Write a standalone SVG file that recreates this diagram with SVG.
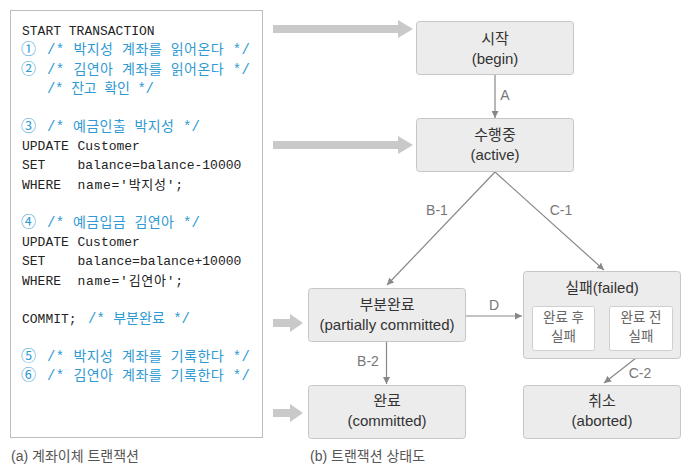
<svg xmlns="http://www.w3.org/2000/svg" width="693" height="472" viewBox="0 0 693 472">
<defs>
<style>
.code{font-family:"Liberation Mono","Noto Sans CJK KR",monospace;font-size:13px;fill:#222}
.cm{fill:#2f9ad3}
.k{font-size:14px}
.num{font-size:15px}
.node rect.box{fill:#ececec;stroke:#c6c6c6;stroke-width:1}
.node rect.inner{fill:#ffffff;stroke:#cfcfcf;stroke-width:1}
.nt{font-family:"Liberation Sans","Noto Sans CJK KR",sans-serif;font-size:15px;fill:#333;text-anchor:middle}
.it{font-family:"Liberation Sans","Noto Sans CJK KR",sans-serif;font-size:13.5px;fill:#666;text-anchor:middle}
.lbl{font-family:"Liberation Sans","Noto Sans CJK KR",sans-serif;font-size:14px;fill:#777;text-anchor:middle}
.cap{font-family:"Liberation Sans","Noto Sans CJK KR",sans-serif;font-size:14px;fill:#555}
.edge{stroke:#888;stroke-width:1.2;fill:none;marker-end:url(#ah)}
.big{fill:#c8c9c8}
</style>
<marker id="ah" viewBox="0 0 10 10" refX="10" refY="5" markerWidth="7" markerHeight="7" markerUnits="userSpaceOnUse" orient="auto">
<path d="M0,0 L10,5 L0,10 Z" fill="#888"/>
</marker>
</defs>

<g id="code-panel">
<rect x="10.5" y="10.5" width="252" height="427" fill="#fff" stroke="#bdbdbd"/>
<text class="code" x="22" y="35">START TRANSACTION</text>
<text class="code cm" y="54"><tspan class="num" x="21">①</tspan><tspan class="k" x="47" textLength="203" lengthAdjust="spacing">/* 박지성 계좌를 읽어온다 */</tspan></text>
<text class="code cm" y="74"><tspan class="num" x="21">②</tspan><tspan class="k" x="47" textLength="203" lengthAdjust="spacing">/* 김연아 계좌를 읽어온다 */</tspan></text>
<text class="code cm" y="93"><tspan class="k" x="47" textLength="107" lengthAdjust="spacing">/* 잔고 확인 */</tspan></text>
<text class="code cm" y="131"><tspan class="num" x="21">③</tspan><tspan class="k" x="47" textLength="153" lengthAdjust="spacing">/* 예금인출 박지성 */</tspan></text>
<text class="code" y="150"><tspan x="22">UPDATE</tspan><tspan x="77.5">Customer</tspan></text>
<text class="code" y="169"><tspan x="22">SET</tspan><tspan x="77.5">balance=balance-10000</tspan></text>
<text class="code" y="189"><tspan x="22">WHERE</tspan><tspan x="77.5" textLength="105.5" lengthAdjust="spacing">name='박지성';</tspan></text>
<text class="code cm" y="227"><tspan class="num" x="21">④</tspan><tspan class="k" x="47" textLength="153" lengthAdjust="spacing">/* 예금입금 김연아 */</tspan></text>
<text class="code" y="246"><tspan x="22">UPDATE</tspan><tspan x="77.5">Customer</tspan></text>
<text class="code" y="265"><tspan x="22">SET</tspan><tspan x="77.5">balance=balance+10000</tspan></text>
<text class="code" y="285"><tspan x="22">WHERE</tspan><tspan x="77.5" textLength="105.5" lengthAdjust="spacing">name='김연아';</tspan></text>
<text class="code" y="323"><tspan x="22">COMMIT;</tspan><tspan class="cm k" x="88" textLength="102" lengthAdjust="spacing">/* 부분완료 */</tspan></text>
<text class="code cm" y="361"><tspan class="num" x="21">⑤</tspan><tspan class="k" x="47" textLength="203" lengthAdjust="spacing">/* 박지성 계좌를 기록한다 */</tspan></text>
<text class="code cm" y="380"><tspan class="num" x="21">⑥</tspan><tspan class="k" x="47" textLength="203" lengthAdjust="spacing">/* 김연아 계좌를 기록한다 */</tspan></text>
<text class="cap" x="11" y="461">(a) 계좌이체 트랜잭션</text>
</g>

<g id="pointers">
<path class="big" d="M273,25 H398 V20 L413,29 L398,38 V33 H273 Z"/>
<path class="big" d="M273,141 H398 V136 L413,145 L398,154 V149 H273 Z"/>
<path class="big" d="M273,319 H290 V314 L303,323 L290,332 V327 H273 Z"/>
<path class="big" d="M273,409 H290 V404 L303,413 L290,422 V417 H273 Z"/>
</g>

<g id="connectors">
<line class="edge" x1="495" y1="75" x2="495" y2="118"/>
<line class="edge" x1="495" y1="172" x2="387" y2="285"/>
<line class="edge" x1="495" y1="172" x2="604" y2="270"/>
<line class="edge" x1="465" y1="316" x2="522" y2="316"/>
<line class="edge" x1="386.5" y1="341" x2="386.5" y2="384"/>
<line class="edge" x1="636" y1="358" x2="604" y2="383"/>
<text class="lbl" x="505" y="100">A</text>
<text class="lbl" x="437" y="215">B-1</text>
<text class="lbl" x="561" y="215">C-1</text>
<text class="lbl" x="494" y="310">D</text>
<text class="lbl" x="368" y="366">B-2</text>
<text class="lbl" x="640" y="378">C-2</text>
</g>

<g id="begin" class="node">
<rect class="box" x="416.5" y="21.5" width="157" height="53" rx="3"/>
<text class="nt" x="495" y="44">시작</text>
<text class="nt" x="495" y="64">(begin)</text>
</g>

<g id="active" class="node">
<rect class="box" x="416.5" y="118.5" width="157" height="53" rx="3"/>
<text class="nt" x="495" y="140">수행중</text>
<text class="nt" x="495" y="160">(active)</text>
</g>

<g id="partially-committed" class="node">
<rect class="box" x="308.5" y="288.5" width="157" height="53" rx="3"/>
<text class="nt" x="387" y="310">부분완료</text>
<text class="nt" x="387" y="330">(partially committed)</text>
</g>

<g id="committed" class="node">
<rect class="box" x="308.5" y="385.5" width="157" height="53" rx="3"/>
<text class="nt" x="387" y="406">완료</text>
<text class="nt" x="387" y="426">(committed)</text>
</g>

<g id="failed" class="node">
<rect class="box" x="523.5" y="271.5" width="157" height="87" rx="3"/>
<text class="nt" x="602" y="293">실패(failed)</text>
<rect class="inner" x="532.5" y="306.5" width="62" height="44" rx="2"/>
<text class="it" x="563.5" y="322">완료 후</text>
<text class="it" x="563.5" y="341">실패</text>
<rect class="inner" x="609.5" y="306.5" width="63" height="44" rx="2"/>
<text class="it" x="641" y="322">완료 전</text>
<text class="it" x="641" y="341">실패</text>
</g>

<g id="aborted" class="node">
<rect class="box" x="523.5" y="385.5" width="157" height="53" rx="3"/>
<text class="nt" x="602" y="406">취소</text>
<text class="nt" x="602" y="426">(aborted)</text>
</g>

<text class="cap" x="310" y="461">(b) 트랜잭션 상태도</text>
</svg>
